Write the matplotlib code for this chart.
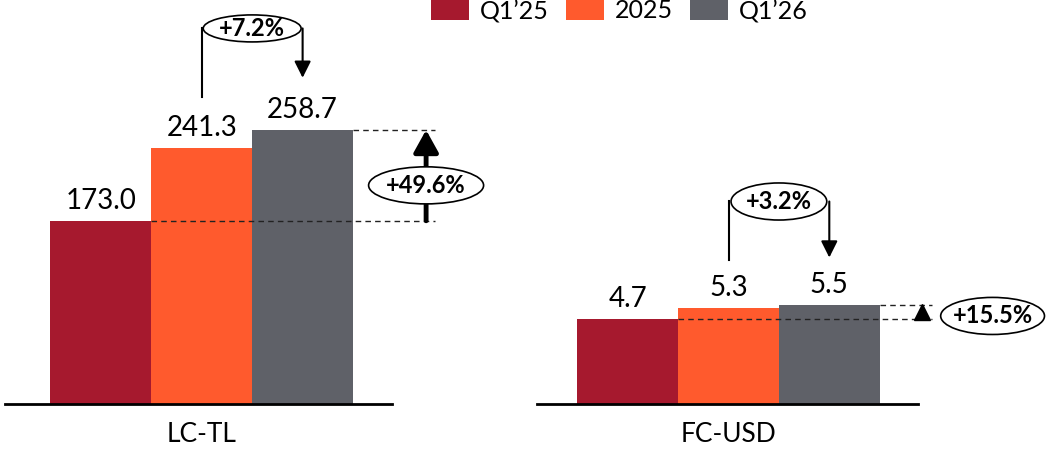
import matplotlib
matplotlib.use("Agg")
import matplotlib.pyplot as plt
from matplotlib.patches import Ellipse, Rectangle

plt.rcParams['font.family'] = ['Lato', 'DejaVu Sans']

series = ["Q1\u201925", "2025", "Q1\u201926"]
colors = ["#A6192E", "#FF5A2D", "#5F6168"]
lc_tl = [173.0, 241.3, 258.7]
fc_usd = [4.7, 5.3, 5.5]
groups = ["LC-TL", "FC-USD"]
yoy_pct = ["+49.6%", "+15.5%"]
qoq_pct = ["+7.2%", "+3.2%"]

W, H = 1049, 450
fig = plt.figure(figsize=(W / 100, H / 100), dpi=100)

ax1 = fig.add_axes([5 / W, 46 / H, 387 / W, 358 / H])
ax2 = fig.add_axes([537 / W, 46 / H, 381 / W, 358 / H])
ax1.set_xlim(-0.95, 2.886)
ax1.set_ylim(0, 338)
ax2.set_xlim(-0.9, 2.88)
ax2.set_ylim(0, 19.8)


def draw_bars(ax, values, label):
    xs = range(len(values))
    ax.bar(xs, values, width=1.0, color=colors, linewidth=0)
    for x, v in zip(xs, values):
        ax.annotate(f"{v:.1f}", (x, v), xytext=(0, 5), textcoords="offset points",
                    ha="center", va="bottom", fontsize=20)
    for s in ["top", "left", "right"]:
        ax.spines[s].set_visible(False)
    ax.spines["bottom"].set_linewidth(2)
    ax.spines["bottom"].set_color("black")
    ax.set_yticks([])
    ax.set_xticks([1])
    ax.set_xticklabels([label], fontsize=19)
    ax.tick_params(axis="x", length=0, pad=13)


def bubble(ax, x, y, w, h, text):
    ax.add_patch(Ellipse((x, y), w, h, facecolor="white", edgecolor="black",
                         linewidth=1.2, clip_on=False, zorder=5))
    ax.text(x, y, text, ha="center", va="center", fontsize=17,
            fontweight="bold", zorder=6)


def bracket(ax, lo_left, top, tip_right, w, h, text):
    ax.plot([1, 1], [lo_left, top], color="black", lw=1.5, clip_on=False)
    ax.annotate("", xy=(2, tip_right), xytext=(2, top),
                arrowprops=dict(arrowstyle="-|>", color="black", lw=1.5,
                                mutation_scale=25, shrinkA=0, shrinkB=0),
                annotation_clip=False)
    bubble(ax, 1.5, top, w, h, text)


def dashed(ax, y, x0, x1):
    ax.plot([x0, x1], [y, y], color="#222222", lw=1, dashes=(4, 3),
            clip_on=False, zorder=3)


draw_bars(ax1, lc_tl, groups[0])
draw_bars(ax2, fc_usd, groups[1])

# LC-TL: quarter-on-quarter bracket and year-on-year arrow
bracket(ax1, 290, 354.6, 308, 0.97, 25.5, qoq_pct[0])
dashed(ax1, lc_tl[0], 0.5, 3.31)
dashed(ax1, lc_tl[2], 2.5, 3.31)
ax1.annotate("", xy=(3.224, lc_tl[2]), xytext=(3.224, lc_tl[0]),
             arrowprops=dict(arrowstyle="-|>,head_length=0.45,head_width=0.25",
                             color="black", lw=3.5, mutation_scale=30,
                             shrinkA=0, shrinkB=0),
             annotation_clip=False)
bubble(ax1, 3.224, lc_tl[0] + (lc_tl[2] - lc_tl[0]) * 0.39, 1.14, 35, yoy_pct[0])

# FC-USD
bracket(ax2, 7.96, 11.2, 8.1, 0.95, 2.05, qoq_pct[1])
dashed(ax2, fc_usd[0], 0.5, 3.02)
dashed(ax2, fc_usd[2], 2.5, 3.02)
ax2.plot([2.92], [(fc_usd[0] + fc_usd[2]) / 2], marker="^", color="black",
         markersize=12, clip_on=False, zorder=4)
bubble(ax2, 3.62, 4.87, 1.03, 2.05, yoy_pct[1])

# legend along the top edge
for name, color, x in zip(series, colors, [431, 566, 690]):
    fig.patches.append(Rectangle((x / W, (H - 20) / H), 38 / W, 20 / H,
                                 transform=fig.transFigure, facecolor=color,
                                 linewidth=0))
    fig.text((x + 49) / W, (H - 11) / H, name, ha="left", va="center",
             fontsize=18)

fig.savefig("out.png", dpi=100)
